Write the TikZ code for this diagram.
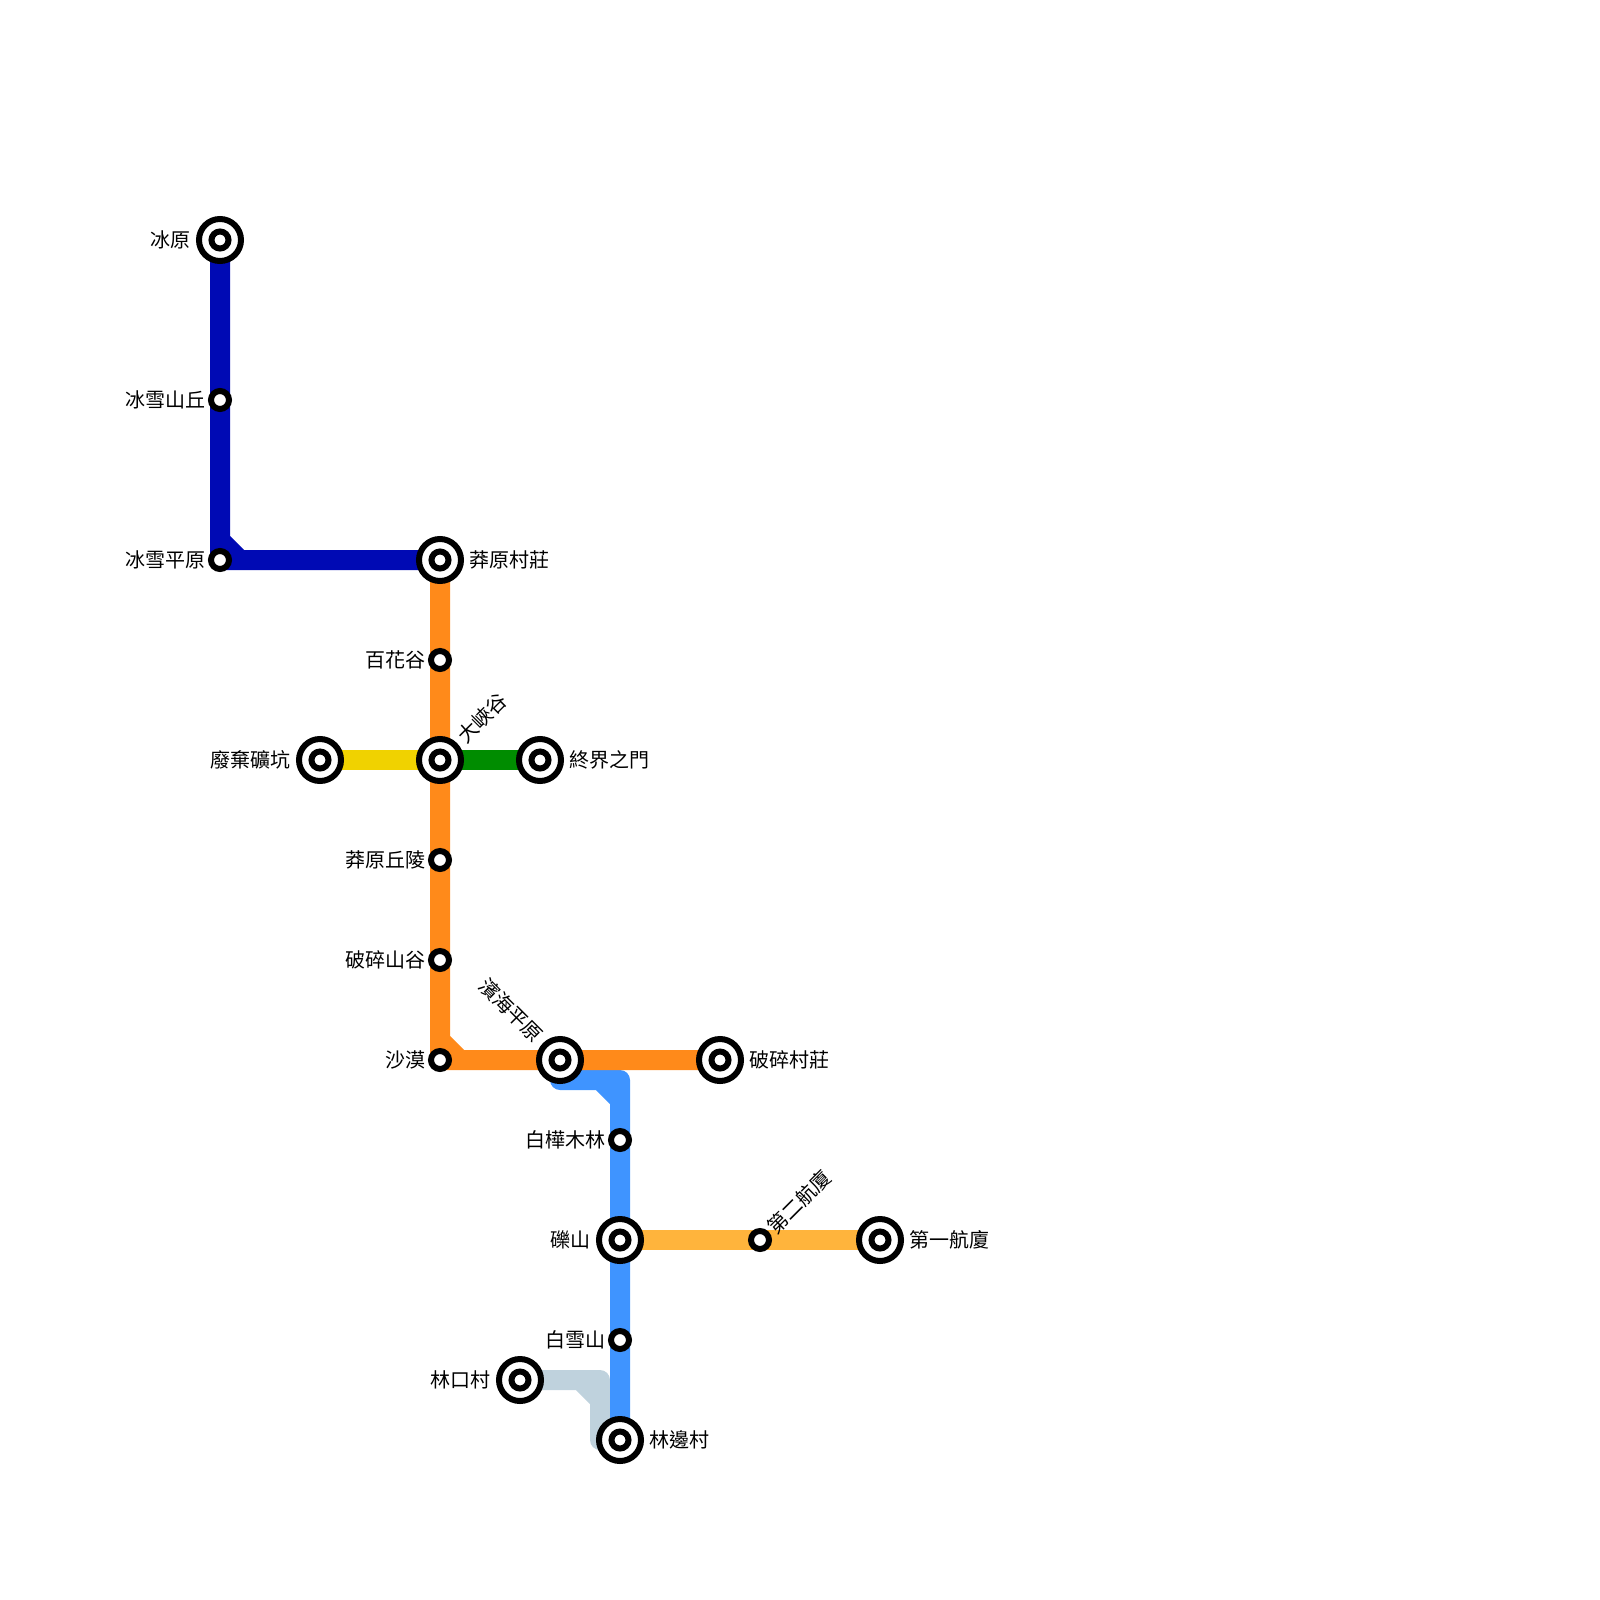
\documentclass[tikz,border=0pt]{standalone}
\usepackage{fontspec}
\setmainfont{Noto Sans CJK TC}
\usetikzlibrary{positioning, backgrounds}
\definecolor{navyline}{HTML}{000AB4}
\definecolor{orangeline}{HTML}{FF8A1A}
\definecolor{yellowline}{HTML}{F0D200}
\definecolor{greenline}{HTML}{008C00}
\definecolor{blueline}{HTML}{3F94FF}
\definecolor{goldline}{HTML}{FFB43C}
\definecolor{paleline}{HTML}{BFD2DD}

\begin{document}
\begin{tikzpicture}[
    x=1pt, y=-1pt,
    font=\fontsize{20}{20}\selectfont,
    bigstop/.style={circle, draw=black, line width=6pt, fill=white, inner sep=0pt, minimum size=42pt,
        path picture={\draw[line width=6pt] (path picture bounding box.center) circle (8.5pt);}},
    smallstop/.style={circle, draw=black, line width=6pt, fill=white, inner sep=0pt, minimum size=18pt},
    stoplabel/.style={inner sep=0pt},
    metro/.style={line width=20pt, line cap=round, line join=round}
]
\useasboundingbox (0,0) rectangle (1600,1600);

% navy stops
\node[bigstop] (bingyuan) at (220,240) {};
\node[smallstop] (bingqiu) at (220,400) {};
\node[smallstop] (bingping) at (220,560) {};

% orange stops
\node[bigstop] (mangcun) at (440,560) {};
\node[smallstop] (baihua) at (440,660) {};
\node[bigstop] (daxia) at (440,760) {};
\node[smallstop] (mangqiu) at (440,860) {};
\node[smallstop] (posui) at (440,960) {};
\node[smallstop] (shamo) at (440,1060) {};
\node[bigstop] (binhai) at (560,1060) {};
\node[bigstop] (pocun) at (720,1060) {};

% branch ends
\node[bigstop] (feikuang) at (320,760) {};
\node[bigstop] (zhongjie) at (540,760) {};

% blue stops
\node[smallstop] (baimu) at (620,1140) {};
\node[bigstop] (lishan) at (620,1240) {};
\node[smallstop] (baixue) at (620,1340) {};
\node[bigstop] (linbian) at (620,1440) {};
\node[bigstop] (linkou) at (520,1380) {};

% gold stops
\node[smallstop] (hangtwo) at (760,1240) {};
\node[bigstop] (hangone) at (880,1240) {};

% bends
\coordinate (navya) at (220,540);
\coordinate (navyb) at (240,560);
\coordinate (orangea) at (440,1040);
\coordinate (orangeb) at (460,1060);
\coordinate (bluestart) at (560,1080);
\coordinate (bluecorner) at (620,1080);
\coordinate (bluea) at (600,1080);
\coordinate (blueb) at (620,1100);
\coordinate (palecorner) at (600,1380);
\coordinate (palea) at (580,1380);
\coordinate (paleb) at (600,1400);
\coordinate (paleend) at (600,1440);

% lines
\begin{scope}[on background layer]
\draw[metro, paleline] (linkou.center) -- (palecorner) -- (paleend) (palea) -- (paleb);
\draw[metro, blueline] (bluestart) -- (bluecorner) -- (linbian.center) (bluea) -- (blueb);
\draw[metro, navyline] (bingyuan.center) -- (bingping.center) -- (mangcun.center) (navya) -- (navyb);
\draw[metro, yellowline] (feikuang.center) -- (daxia.center);
\draw[metro, greenline] (daxia.center) -- (zhongjie.center);
\draw[metro, orangeline] (mangcun.center) -- (shamo.center) -- (pocun.center) (orangea) -- (orangeb);
\draw[metro, goldline] (lishan.center) -- (hangone.center);
\end{scope}

% labels
\node[stoplabel, left=5pt of bingyuan] (lbingyuan) {冰原};
\node[stoplabel, left=2pt of bingqiu] (lbingqiu) {冰雪山丘};
\node[stoplabel, left=2pt of bingping] (lbingping) {冰雪平原};
\node[stoplabel, right=5pt of mangcun] (lmangcun) {莽原村莊};
\node[stoplabel, left=2pt of baihua] (lbaihua) {百花谷};
\node[stoplabel, rotate=45] (ldaxia) at (482,718) {大峽谷};
\node[stoplabel, left=5pt of feikuang] (lfeikuang) {廢棄礦坑};
\node[stoplabel, right=5pt of zhongjie] (lzhongjie) {終界之門};
\node[stoplabel, left=2pt of mangqiu] (lmangqiu) {莽原丘陵};
\node[stoplabel, left=2pt of posui] (lposui) {破碎山谷};
\node[stoplabel, left=2pt of shamo] (lshamo) {沙漠};
\node[stoplabel, rotate=-45] (lbinhai) at (511,1010) {濱海平原};
\node[stoplabel, right=5pt of pocun] (lpocun) {破碎村莊};
\node[stoplabel, left=2pt of baimu] (lbaimu) {白樺木林};
\node[stoplabel, left=5pt of lishan] (llishan) {礫山};
\node[stoplabel, rotate=45] (lhangtwo) at (799,1202) {第二航廈};
\node[stoplabel, right=5pt of hangone] (lhangone) {第一航廈};
\node[stoplabel, left=2pt of baixue] (lbaixue) {白雪山};
\node[stoplabel, right=5pt of linbian] (llinbian) {林邊村};
\node[stoplabel, left=5pt of linkou] (llinkou) {林口村};
\end{tikzpicture}
\end{document}
